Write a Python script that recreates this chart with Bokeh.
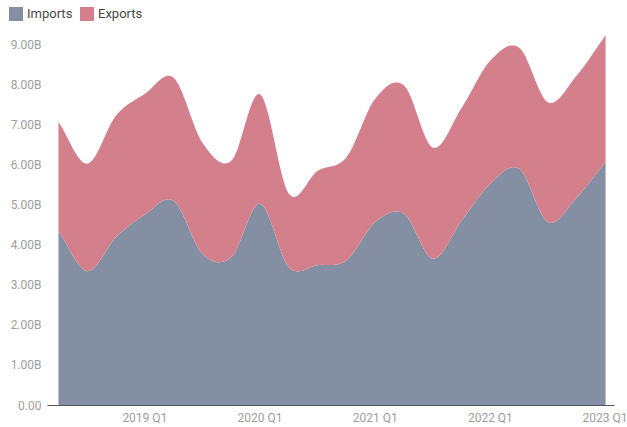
import numpy as np
from bokeh.plotting import figure
from bokeh.layouts import column
from bokeh.models import Range1d, FixedTicker, ColumnDataSource, Div
from bokeh.embed import file_html
from bokeh.resources import INLINE

quarters = ["2018 Q2", "2018 Q3", "2018 Q4", "2019 Q1", "2019 Q2", "2019 Q3", "2019 Q4",
            "2020 Q1", "2020 Q2", "2020 Q3", "2020 Q4", "2021 Q1", "2021 Q2", "2021 Q3",
            "2021 Q4", "2022 Q1", "2022 Q2", "2022 Q3", "2022 Q4", "2023 Q1"]
# values in billions
imports = [4.35, 3.35, 4.20, 4.76, 5.10, 3.78, 3.70, 5.03, 3.45, 3.50,
           3.62, 4.57, 4.78, 3.66, 4.61, 5.53, 5.90, 4.57, 5.19, 6.07]
exports = [2.72, 2.68, 3.03, 3.01, 3.07, 2.77, 2.40, 2.73, 1.83, 2.35,
           2.57, 3.08, 3.20, 2.77, 2.81, 3.07, 3.02, 2.99, 3.04, 3.16]
y_ticks = [0, 1, 2, 3, 4, 5, 6, 7, 8, 9]
series_names = ["Imports", "Exports"]

IMP_COLOR = "#848fa3"
EXP_COLOR = "#d4808c"
FONT = "Roboto"


def spline(vals, n=24):
    y = np.asarray(vals, float)
    N = len(y)
    m = np.empty(N)
    m[1:-1] = (y[2:] - y[:-2]) / 2.0
    m[0] = y[1] - y[0]
    m[-1] = y[-1] - y[-2]
    xs, ys = [], []
    for i in range(N - 1):
        t = np.linspace(0, 1, n, endpoint=(i == N - 2))
        h00 = 2 * t**3 - 3 * t**2 + 1
        h10 = t**3 - 2 * t**2 + t
        h01 = -2 * t**3 + 3 * t**2
        h11 = t**3 - t**2
        xs.append(i + t)
        ys.append(h00 * y[i] + h10 * m[i] + h01 * y[i + 1] + h11 * m[i + 1])
    return np.concatenate(xs), np.concatenate(ys)


idx = list(range(len(quarters)))
total = [a + b for a, b in zip(imports, exports)]
xs, imp_s = spline(imports)
_, tot_s = spline(total)
src = ColumnDataSource(dict(x=xs, zero=np.zeros_like(xs), imp=imp_s, tot=tot_s))

# ---- main chart ----
p = figure(width=627, height=397, output_backend="svg", toolbar_location=None,
           x_range=Range1d(-0.381, 19.31), y_range=Range1d(0, 9.35),
           min_border_left=47, min_border_right=13, min_border_top=0, min_border_bottom=22)
p.outline_line_color = None
p.grid.visible = False

p.varea(x="x", y1="zero", y2="imp", source=src, fill_color=IMP_COLOR)
p.varea(x="x", y1="imp", y2="tot", source=src, fill_color=EXP_COLOR)

xa = p.xaxis[0]
xa.ticker = FixedTicker(ticks=[i for i, q in zip(idx, quarters) if q.endswith("Q1")])
xa.major_label_overrides = {i: q for i, q in zip(idx, quarters) if q.endswith("Q1")}
xa.major_tick_line_color = None
xa.major_tick_out = 0
xa.minor_tick_line_color = None
xa.axis_line_color = "#555555"
xa.axis_line_width = 1.2
xa.major_label_text_color = "#9e9e9e"
xa.major_label_text_font = FONT
xa.major_label_text_font_size = "12px"
xa.major_label_standoff = 5

ya = p.yaxis[0]
ya.ticker = FixedTicker(ticks=y_ticks)
ya.major_label_overrides = {t: ("0.00" if t == 0 else f"{t:.2f}B") for t in y_ticks}
ya.axis_line_color = None
ya.major_tick_line_color = None
ya.major_tick_out = 0
ya.minor_tick_line_color = None
ya.major_label_text_color = "#9e9e9e"
ya.major_label_text_font = FONT
ya.major_label_text_font_size = "12px"
ya.major_label_standoff = 6

# ---- legend strip (HTML) ----
legend_items = [(series_names[0], IMP_COLOR, 9), (series_names[1], EXP_COLOR, 80)]
parts = []
for name, color, left in legend_items:
    parts.append(f'<span style="position:absolute;left:{left}px;top:7px;width:14px;'
                 f'height:14px;background:{color};"></span>')
    parts.append(f'<span style="position:absolute;left:{left + 18}px;top:6px;'
                 f'line-height:16px;white-space:nowrap;">{name}</span>')
legend_html = ('<div style="position:relative;width:627px;height:30px;'
               f'font-family:{FONT};font-size:13px;color:#484848;">' + "".join(parts) + '</div>')
legend_div = Div(text=legend_html, width=627, height=30, margin=0,
                 styles={"margin": "0", "padding": "0"})

layout = column(legend_div, p, spacing=0)
open("out.html", "w").write(file_html(layout, INLINE))
